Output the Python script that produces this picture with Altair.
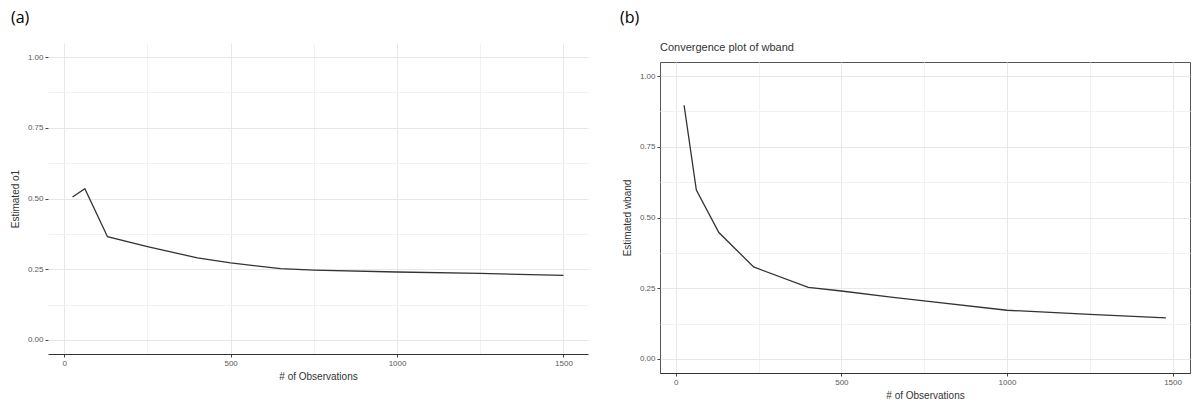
import altair as alt
import pandas as pd

# Panel (a)
a_n = [25, 62, 130, 250, 400, 500, 650, 750, 1000, 1250, 1500]
a_val = [0.505, 0.535, 0.365, 0.33, 0.29, 0.272, 0.252, 0.247, 0.24, 0.235, 0.228]

# Panel (b)
b_n = [25, 62, 130, 235, 400, 500, 650, 750, 1000, 1250, 1480]
b_val = [0.897, 0.597, 0.447, 0.325, 0.253, 0.24, 0.218, 0.205, 0.172, 0.157, 0.145]

x_ticks = [0, 250, 500, 750, 1000, 1250, 1500]
y_ticks = [0, 0.125, 0.25, 0.375, 0.5, 0.625, 0.75, 0.875, 1.0]

FONT = "Liberation Sans"


def x_axis():
    return alt.Axis(
        values=x_ticks, format="d",
        labelExpr="datum.value % 500 == 0 ? datum.label : ''",
        tickColor={"condition": {"test": "datum.value % 500 == 0", "value": "#444444"}, "value": "transparent"},
        gridColor={"condition": {"test": "datum.value % 500 == 0", "value": "#e8e8e8"}, "value": "#f2f2f2"},
        grid=True, domain=True, domainColor="#333333", domainWidth=1.2,
        tickSize=3, labelFontSize=8, labelColor="#5a5a5a", labelFont=FONT,
        labelPadding=2, title="# of Observations", titleFontSize=10,
        titleFontWeight="normal", titleColor="#333333", titleFont=FONT, titlePadding=4,
    )


def y_axis(title):
    return alt.Axis(
        values=y_ticks, format=".2f",
        labelExpr="(datum.value * 100) % 25 == 0 ? datum.label : ''",
        tickColor={"condition": {"test": "(datum.value * 100) % 25 == 0", "value": "#444444"}, "value": "transparent"},
        gridColor={"condition": {"test": "(datum.value * 100) % 25 == 0", "value": "#e8e8e8"}, "value": "#f2f2f2"},
        grid=True, domain=False,
        tickSize=3, labelFontSize=8, labelColor="#5a5a5a", labelFont=FONT,
        labelPadding=2, title=title, titleFontSize=10,
        titleFontWeight="normal", titleColor="#333333", titleFont=FONT, titlePadding=7,
    )


df_a = pd.DataFrame({"n": a_n, "v": a_val})
df_b = pd.DataFrame({"n": b_n, "v": b_val})

line_a = alt.Chart(df_a).mark_line(color="#333333", strokeWidth=1.3).encode(
    x=alt.X("n:Q", scale=alt.Scale(domain=[-48.75, 1573.75], nice=False, zero=False), axis=x_axis()),
    y=alt.Y("v:Q", scale=alt.Scale(domain=[-0.05, 1.05], nice=False, zero=False),
            axis=y_axis("Estimated o1")),
)
lab_a = alt.Chart(pd.DataFrame({"t": ["(a)"]})).mark_text(
    align="left", baseline="middle", fontSize=16, font="Open Sans", color="black"
).encode(x=alt.value(-37), y=alt.value(-25), text="t:N")

panel_a = alt.layer(line_a, lab_a).properties(
    width=540, height=311, view=alt.ViewBackground(stroke="transparent")
)

# header strip above panel (b): panel label and plot title
lab_b = alt.Chart(pd.DataFrame({"t": ["(b)"]})).mark_text(
    align="left", baseline="middle", fontSize=16, font="Open Sans", color="black"
).encode(x=alt.value(-40), y=alt.value(-25), text="t:N")
title_b = alt.Chart(pd.DataFrame({"t": ["Convergence plot of wband"]})).mark_text(
    align="left", baseline="middle", fontSize=11, font=FONT, color="#333333"
).encode(x=alt.value(0), y=alt.value(5), text="t:N")
header_b = alt.layer(lab_b, title_b).properties(
    width=530, height=14, view=alt.ViewBackground(stroke="transparent")
)

line_b = alt.Chart(df_b).mark_line(color="#333333", strokeWidth=1.3).encode(
    x=alt.X("n:Q", scale=alt.Scale(domain=[-47.75, 1552.75], nice=False, zero=False), axis=x_axis()),
    y=alt.Y("v:Q", scale=alt.Scale(domain=[-0.05, 1.05], nice=False, zero=False),
            axis=y_axis("Estimated wband")),
)
panel_b = line_b.properties(
    width=530, height=311,
    view=alt.ViewBackground(stroke="#555555", strokeWidth=1),
)

chart = alt.hconcat(panel_a, alt.vconcat(header_b, panel_b, spacing=3), spacing=30).properties(
    padding={"left": 9, "top": 9, "right": 0, "bottom": 0},
    background="white",
)

chart.save("out.html", embed_options={"renderer": "svg", "actions": False})
